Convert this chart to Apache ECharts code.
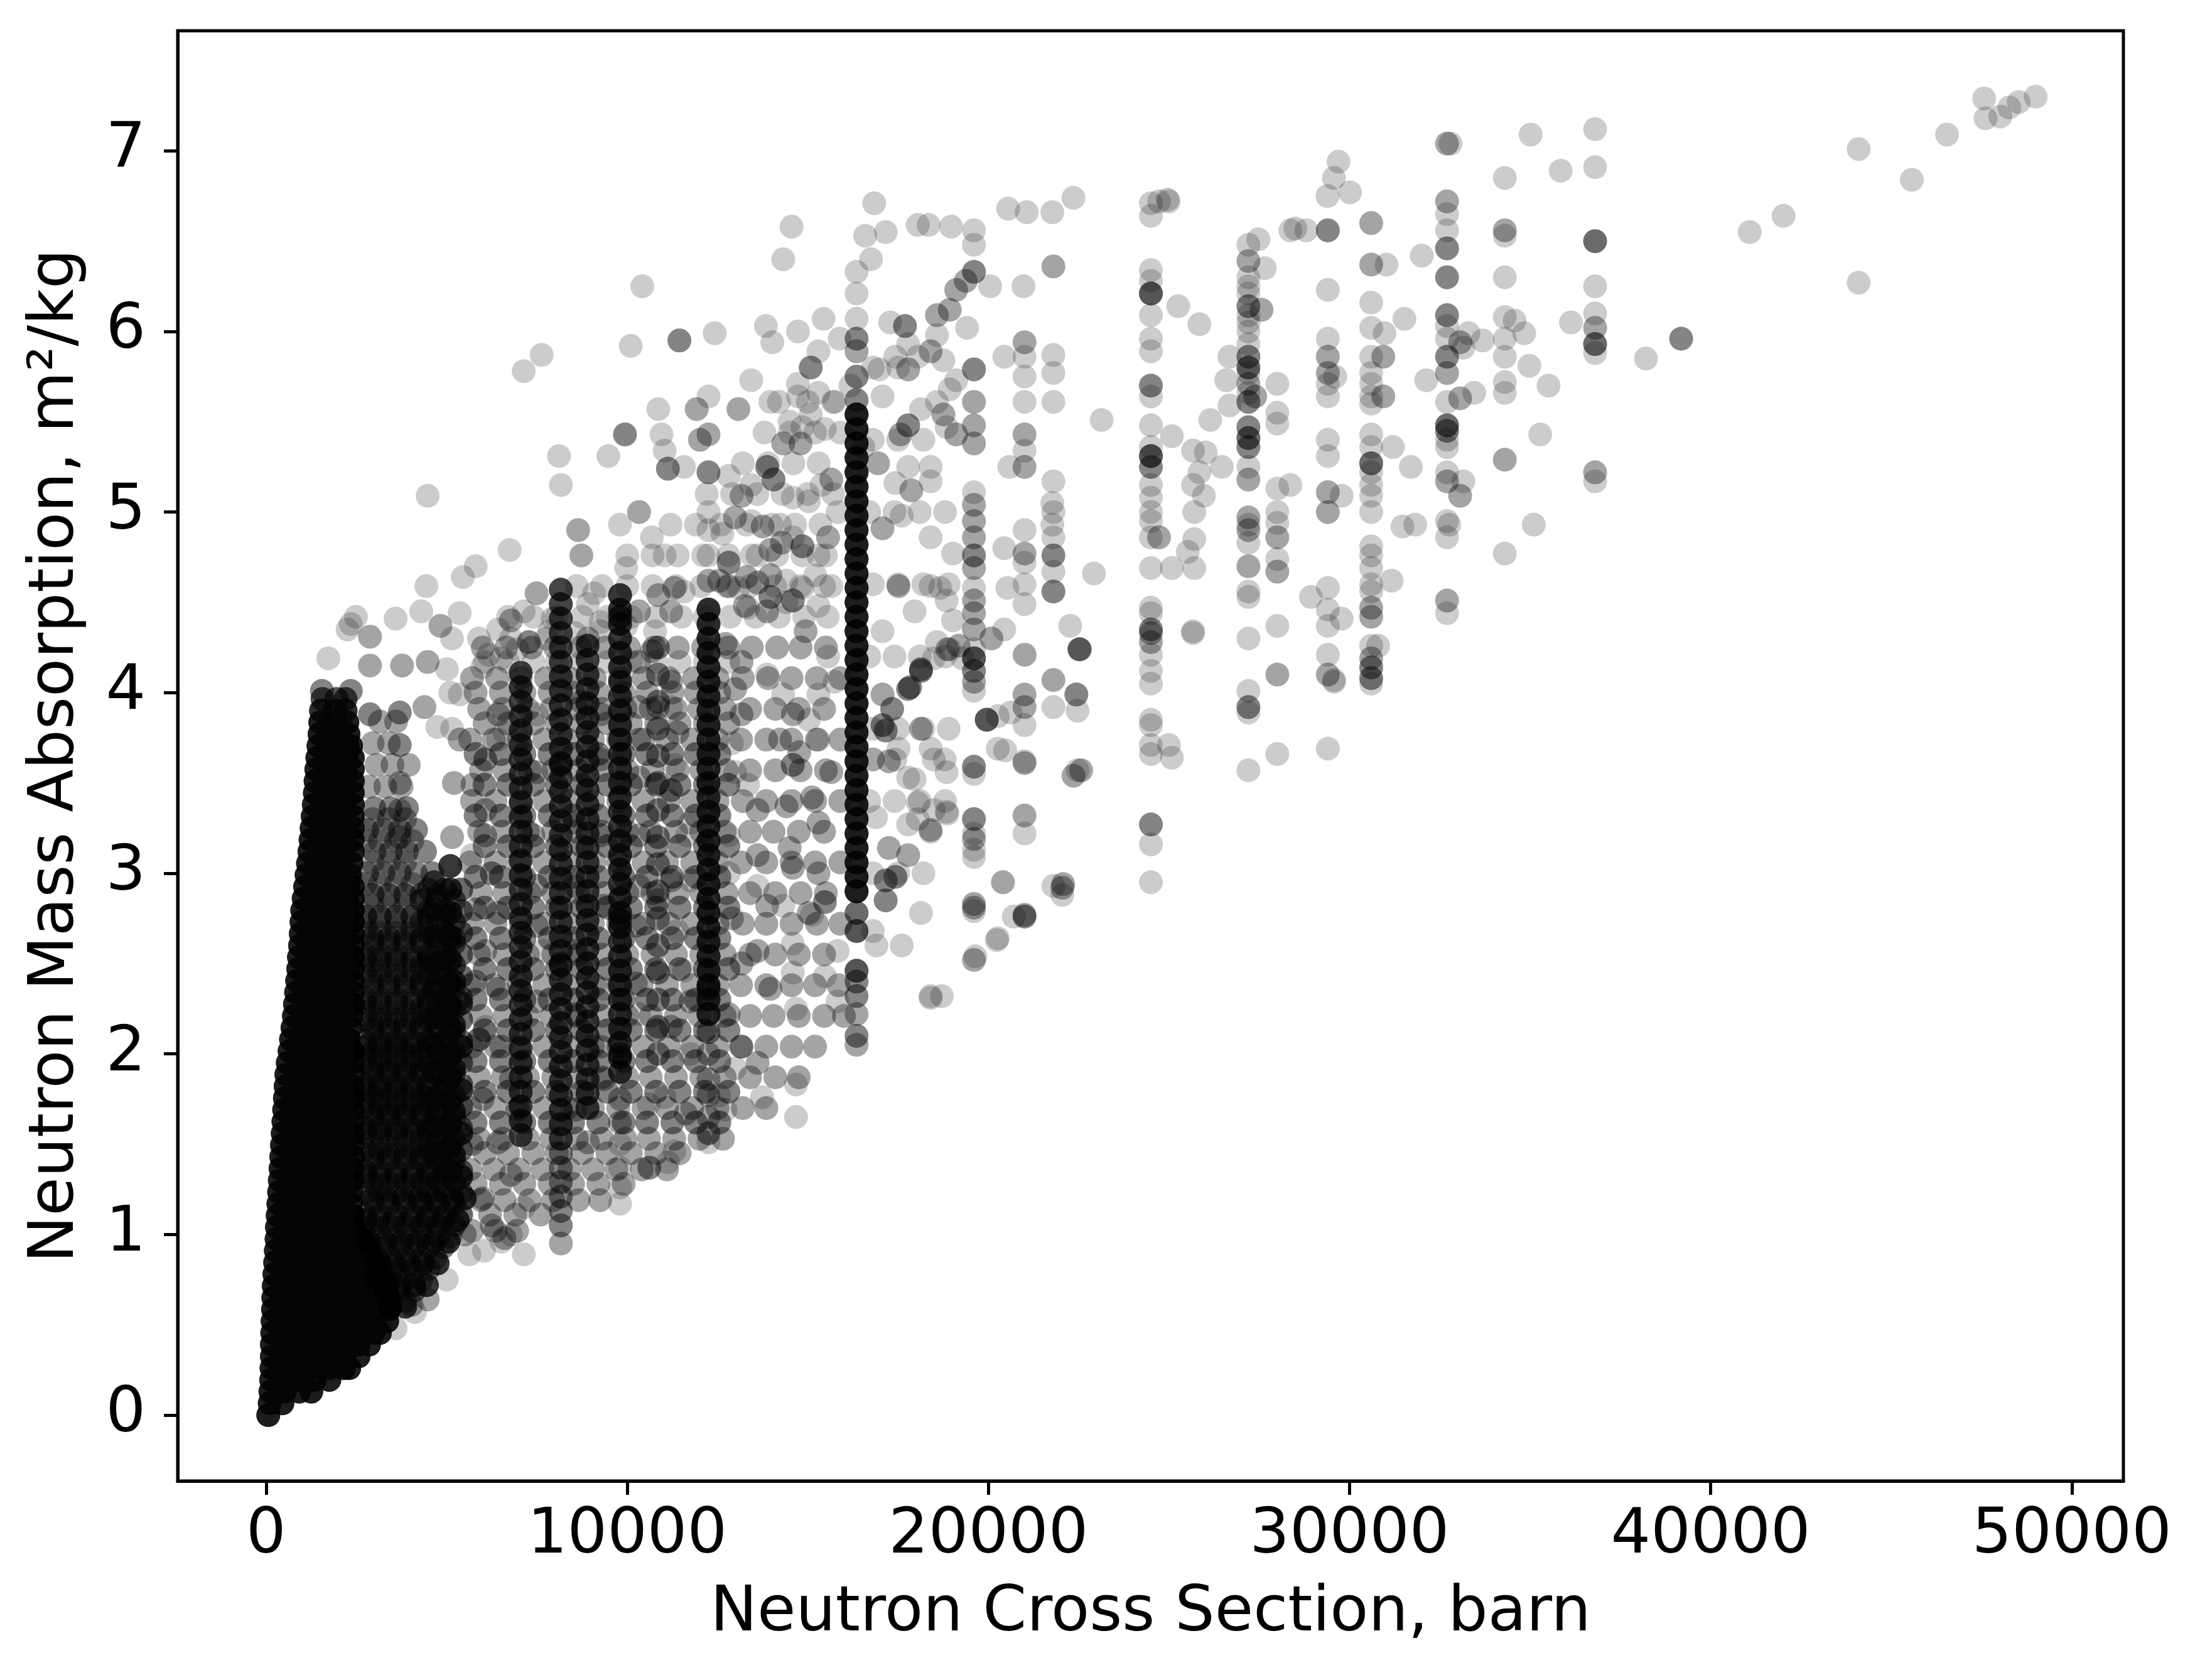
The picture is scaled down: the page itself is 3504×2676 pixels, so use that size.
<!DOCTYPE html>
<html>
<head>
<meta charset="utf-8">
<script src="https://cdn.jsdelivr.net/npm/echarts@6/dist/echarts.min.js"></script>
<style>
  html, body { margin: 0; padding: 0; background: #fff; }
  #chart { width: 3504px; height: 2676px; }
</style>
</head>
<body>
<div id="chart"></div>
<script>
const xTicks = [0, 10000, 20000, 30000, 40000, 50000];
const yTicks = [0, 1, 2, 3, 4, 5, 6, 7];
const xRange = [-2449, 51429];
const yRange = [-0.365, 7.665];

// n = how many markers sit on top of each other at a spot (read from how dark it is)

// saturated mass near the origin: [y, n, [cross sections]]
const coreRows = [
  [0.0, 10, [60]],
  [0.065, 10, [100, 450]],
  [0.13, 10, [120, 520, 920, 1250]],
  [0.195, 10, [140, 540, 940, 1340, 1750]],
  [0.26, 10, [150, 550, 950, 1350, 1750, 2150, 2300]],
  [0.325, 10, [160, 560, 960, 1360, 1760, 2160, 2560]],
  [0.39, 10, [160, 560, 960, 1360, 1760, 2160, 2560, 2850]],
  [0.455, 10, [170, 570, 970, 1370, 1770, 2170, 2570, 2970, 3150]],
  [0.52, 10, [180, 580, 980, 1380, 1780, 2180, 2580, 2980, 3350]],
  [0.585, 10, [190, 590, 990, 1390, 1790, 2190, 2590, 2990, 3400]],
  [0.65, 10, [200, 600, 1000, 1400, 1800, 2200, 2600, 3000, 3400]],
  [0.715, 10, [210, 610, 1010, 1410, 1810, 2210, 2610, 3000, 3350]],
  [0.78, 10, [230, 630, 1030, 1430, 1830, 2230, 2630, 3000, 3200]],
  [0.845, 10, [250, 650, 1050, 1450, 1850, 2250, 2650, 3000]],
  [0.91, 10, [270, 670, 1070, 1470, 1870, 2270, 2670, 2850]],
  [0.975, 10, [290, 690, 1090, 1490, 1890, 2290, 2650]],
  [1.04, 10, [300, 700, 1100, 1500, 1900, 2300, 2450]],
  [1.105, 10, [320, 720, 1120, 1520, 1920, 2320, 2400]],
  [1.17, 10, [340, 740, 1140, 1540, 1940, 2340]],
  [1.235, 10, [360, 760, 1160, 1560, 1960, 2360]],
  [1.3, 10, [380, 780, 1180, 1580, 1980, 2380]],
  [1.365, 10, [400, 800, 1200, 1600, 2000, 2400]],
  [1.43, 10, [420, 820, 1220, 1620, 2020, 2400]],
  [1.495, 10, [440, 840, 1240, 1640, 2040, 2400]],
  [1.56, 10, [460, 860, 1260, 1660, 2060, 2400]],
  [1.625, 10, [480, 880, 1280, 1680, 2080, 2400]],
  [1.69, 10, [500, 900, 1300, 1700, 2100, 2400]],
  [1.755, 10, [520, 920, 1320, 1720, 2120, 2400]],
  [1.82, 10, [540, 940, 1340, 1740, 2140, 2400]],
  [1.885, 10, [560, 960, 1360, 1760, 2160, 2400]],
  [1.95, 10, [600, 1000, 1400, 1800, 2200, 2400]],
  [2.015, 10, [650, 1050, 1450, 1850, 2250, 2400]],
  [2.08, 10, [690, 1090, 1490, 1890, 2290]],
  [2.145, 10, [730, 1130, 1530, 1930, 2330]],
  [2.21, 10, [770, 1170, 1570, 1970, 2370]],
  [2.275, 10, [800, 1200, 1600, 2000, 2400]],
  [2.34, 10, [830, 1230, 1630, 2030, 2400]],
  [2.405, 10, [860, 1260, 1660, 2060, 2400]],
  [2.47, 10, [890, 1290, 1690, 2090, 2400]],
  [2.535, 10, [910, 1310, 1710, 2110, 2400]],
  [2.6, 10, [940, 1340, 1740, 2140, 2400]],
  [2.665, 10, [960, 1360, 1760, 2160, 2400]],
  [2.73, 10, [980, 1380, 1780, 2180, 2400]],
  [2.795, 10, [1000, 1400, 1800, 2200, 2400]],
  [2.86, 10, [1040, 1440, 1840, 2240, 2400]],
  [2.925, 10, [1080, 1480, 1880, 2280, 2400]],
  [2.99, 10, [1120, 1520, 1920, 2320]],
  [3.055, 10, [1160, 1560, 1960, 2360]],
  [3.12, 10, [1200, 1600, 2000, 2400]],
  [3.185, 10, [1230, 1630, 2030, 2400]],
  [3.25, 10, [1260, 1660, 2060, 2400]],
  [3.315, 10, [1290, 1690, 2090, 2400]],
  [3.38, 10, [1320, 1720, 2120, 2400]],
  [3.445, 10, [1350, 1750, 2150, 2400]],
  [3.51, 10, [1370, 1770, 2170, 2400]],
  [3.575, 10, [1390, 1790, 2190, 2400]],
  [3.64, 10, [1420, 1820, 2220, 2400]],
  [3.705, 10, [1450, 1850, 2250, 2350]],
  [3.77, 10, [1480, 1880, 2280]],
  [3.835, 10, [1500, 1900, 2250]],
  [3.9, 8, [1520, 1900, 2200]],
  [3.965, 5, [1560, 1950, 2200]]
];

// dark shoulder between 2500 and 5500 barn: [y, n, [cross sections]]
const shoulderA = [2750, 3150, 3600, 4050];
const shoulderB = [2950, 3400, 3850];
const shoulderRightA = [4500, 4950, 5400];
const shoulderRightB = [4300, 4750, 5200];
const shoulderRows = [
  [0.6, 7, [3450, 3850]],
  [0.72, 7, [3300, 3700, 4100, 4450]],
  [0.84, 7, [3150, 3550, 3950, 4350, 4750]],
  [0.96, 7, [2850, 3300, 3750, 4200, 4650, 5050]],
  [1.08, 7, [2750, 3100, 3550, 4000, 4450, 4900, 5300]],
  [1.2, 7, [2950, 3350, 3800, 4250, 4700, 5150, 5500]],
  [1.32, 7, [2750, 3150, 3600, 4050, 4500, 4950, 5400]],
  [1.44, 7, [2950, 3400, 3850, 4300, 4750, 5200]],
  [1.56, 6, shoulderA], [1.56, 7, shoulderRightA],
  [1.68, 6, shoulderB], [1.68, 7, shoulderRightB],
  [1.8, 6, shoulderA], [1.8, 7, shoulderRightA],
  [1.92, 6, shoulderB], [1.92, 7, shoulderRightB],
  [2.04, 6, shoulderA], [2.04, 7, shoulderRightA],
  [2.16, 5, shoulderB], [2.16, 6, shoulderRightB],
  [2.28, 5, shoulderA], [2.28, 6, shoulderRightA],
  [2.4, 5, shoulderB], [2.4, 6, shoulderRightB],
  [2.52, 5, shoulderA], [2.52, 6, [4500, 4950]],
  [2.64, 5, shoulderB], [2.64, 5, shoulderRightB],
  [2.76, 5, shoulderA], [2.76, 5, [4500, 4950]],
  [2.88, 4, [2950, 3400, 3850, 4300, 4750]],
  [3.0, 3, [2800, 3250, 3700, 4150, 4600]],
  [3.12, 3, [3000, 3450, 3900, 4400]],
  [3.24, 3, [2800, 3250, 3700, 4150]],
  [3.36, 3, [3000, 3450, 3900]],
  [3.48, 2, [2850, 3300, 3750]],
  [3.6, 2, [3050, 3500, 3950]],
  [3.72, 2, [2950, 3400]],
  [3.84, 2, [3150, 3600]],
  [1.62, 2, shoulderB], [1.74, 2, shoulderA], [1.86, 2, shoulderB], [1.98, 2, shoulderA],
  [2.1, 2, shoulderB], [2.22, 2, shoulderA], [2.34, 2, shoulderB], [2.46, 2, shoulderA],
  [2.58, 2, shoulderB], [2.7, 2, shoulderA], [2.82, 2, shoulderB], [2.94, 2, shoulderA],
  [3.06, 2, shoulderB], [3.18, 2, shoulderA], [3.3, 2, shoulderB]
];

// the lower shoulder is nearly solid: a finer layer of the same compounds
const shoulderDenseRows = [
  [0.63, 3, [3450, 3850]], [0.69, 3, [3300, 3700, 4100]], [0.75, 3, [3450, 3850, 4300]],
  [0.81, 3, [3300, 3700, 4100, 4500]], [0.87, 3, [3050, 3450, 3850, 4300, 4700]],
  [0.93, 3, [2900, 3300, 3700, 4100, 4500, 4900]], [0.99, 3, [2750, 3150, 3550, 3950, 4350, 4750, 5100]],
  [1.05, 3, shoulderB], [1.05, 4, shoulderRightB], [1.11, 3, shoulderA], [1.11, 4, shoulderRightA],
  [1.17, 3, shoulderB], [1.17, 4, shoulderRightB], [1.23, 3, shoulderA], [1.23, 4, shoulderRightA],
  [1.29, 3, shoulderB], [1.29, 4, shoulderRightB], [1.35, 3, shoulderA], [1.35, 4, shoulderRightA],
  [1.41, 3, shoulderB], [1.41, 4, shoulderRightB], [1.47, 3, shoulderA], [1.47, 4, shoulderRightA],
  [1.53, 3, shoulderB], [1.53, 4, shoulderRightB], [1.59, 3, shoulderA], [1.59, 4, shoulderRightA],
  [1.65, 3, shoulderB], [1.65, 4, shoulderRightB], [1.71, 3, shoulderA], [1.71, 4, shoulderRightA],
  [1.77, 3, shoulderB], [1.77, 4, shoulderRightB], [1.83, 3, shoulderA], [1.83, 4, shoulderRightA],
  [1.89, 3, shoulderB], [1.89, 4, shoulderRightB], [1.95, 3, shoulderA], [1.95, 4, shoulderRightA],
  [2.01, 3, shoulderB], [2.01, 4, shoulderRightB], [2.07, 3, shoulderA], [2.07, 4, shoulderRightA],
  [2.13, 3, shoulderB], [2.13, 4, shoulderRightB], [2.19, 3, shoulderA], [2.19, 4, shoulderRightA],
  [2.25, 2, shoulderB], [2.25, 4, shoulderRightB], [2.31, 2, shoulderA], [2.31, 4, shoulderRightA],
  [2.37, 2, shoulderB], [2.37, 4, shoulderRightB], [2.43, 2, shoulderA], [2.43, 4, shoulderRightA],
  [2.49, 2, shoulderB], [2.49, 4, shoulderRightB], [2.55, 2, shoulderA], [2.55, 4, shoulderRightA],
  [2.61, 2, shoulderB], [2.61, 4, shoulderRightB], [2.67, 2, shoulderA], [2.67, 4, shoulderRightA],
  [2.73, 4, shoulderRightB], [2.79, 4, shoulderRightA], [2.85, 4, shoulderRightB], [2.91, 4, shoulderRightA]
];

// the crowded band of mixed compounds from 5500 to 19000 barn: [y, n, [cross sections]]
const bandRows = [
  [1.02, 2, [5700, 6350, 6950]],
  [1.19, 2, [5950, 6600, 7300, 7950, 8650, 9250]],
  [1.36, 2, [5650, 6300, 7000, 7650, 8400, 9050, 9700, 10400, 11100]],
  [1.53, 2, [5900, 6550, 7250, 7900, 8600, 9300, 9950, 10600, 11300, 12000, 12650]],
  [1.7, 2, [5650, 6350, 7000, 7700, 8350, 9050, 9750, 10450, 11100, 11800, 12500, 13200, 13850]],
  [1.87, 2, [5900, 6550, 7250, 7950, 8600, 9300, 10000, 10650, 11350, 12050, 12700, 13400, 14100, 14750]],
  [2.04, 2, [5700, 6350, 7000, 7700, 8400, 9050, 9750, 10450, 11150, 11800, 12500, 13150, 13850, 14550, 15200]],
  [2.21, 2, [5950, 6600, 7250, 7900, 8600, 9300, 10000, 10650, 11350, 12000, 12700, 13400, 14050, 14750, 15450, 16000]],
  [2.38, 2, [5650, 6300, 7000, 7700, 8350, 9100, 9750, 10400, 11100, 11800, 12500, 13150, 13850, 14550, 15200, 15850]],
  [2.55, 2, [5900, 6600, 7250, 7950, 8650, 9300, 10000, 10700, 11350, 12050, 12700, 13400, 14100, 14750, 15450]],
  [2.72, 2, [5700, 6350, 7050, 7700, 8400, 9050, 9750, 10450, 11150, 11800, 12500, 13200, 13850, 14550, 15250, 15900]],
  [2.89, 2, [5950, 6600, 7300, 7950, 8650, 9350, 10000, 10700, 11400, 12050, 12750, 13400, 14100, 14800, 15500]],
  [3.06, 2, [5650, 6350, 7000, 7700, 8400, 9100, 9750, 10450, 11100, 11800, 12500, 13150, 13850, 14550, 15200, 15900]],
  [3.23, 2, [5900, 6550, 7250, 7950, 8600, 9300, 10000, 10650, 11350, 12050, 12700, 13400, 14050, 14750, 15450]],
  [3.4, 2, [5700, 6350, 7050, 7700, 8400, 9050, 9750, 10450, 11150, 11800, 12500, 13200, 13850, 14550, 15200, 15900]],
  [3.57, 2, [5950, 6600, 7300, 7950, 8650, 9300, 10000, 10700, 11400, 12050, 12750, 13400, 14100, 14800, 15500]],
  [3.74, 2, [5650, 6300, 7000, 7700, 8350, 9050, 9750, 10450, 11100, 11800, 12500, 13150, 13850, 14550, 15250, 15900]],
  [3.91, 2, [5900, 6550, 7250, 7900, 8600, 9300, 9950, 10650, 11350, 12000, 12700, 13400, 14100, 14750, 15450]],
  [4.08, 2, [5700, 6400, 7050, 7750, 8400, 9100, 9800, 10450, 11150, 11850, 12500, 13200, 13900, 14550, 15250, 15900]],
  [4.25, 2, [6000, 6650, 7350, 8000, 8700, 9400, 10050, 10750, 11400, 12100, 12800, 13450, 14150, 14800, 15500]],
  [4.42, 1, [6700, 7400, 8050, 8750, 9450, 10100, 10800, 11500, 12150, 12850, 13550, 14200, 14900, 15550]],
  [4.59, 1, [8600, 9300, 10000, 10700, 11350, 12050, 12750, 13400, 14100, 14800, 15450]],
  [4.76, 1, [10000, 10700, 11400, 12100, 12800, 13450, 14150, 14850, 15500]],
  [4.93, 1, [11200, 11900, 12600, 13300, 14000, 14650, 15350]],
  [5.1, 1, [12200, 12900, 13600, 14300, 15000, 15700]],
  [5.27, 1, [13200, 13900, 14600, 15300]],
  [5.44, 1, [13800, 14500, 15200, 15900]],
  [5.61, 1, [14200, 15000, 15700]],
  [2.6, 1, [16900, 17600]],
  [3.0, 1, [16800, 17500, 18200]],
  [3.4, 1, [16700, 17400, 18100, 18800]],
  [3.8, 1, [16800, 17500, 18200, 18900]],
  [4.2, 1, [16700, 17400, 18100, 18800]],
  [4.6, 1, [16800, 17500, 18200, 18900]],
  [5.0, 1, [16700, 17400, 18100, 18800]],
  [5.4, 1, [16800, 17500, 18200]],
  [5.8, 1, [16800, 17500]]
];

// second, offset layer of the same band where it is darkest (5500 to 13000 barn)
const bandInnerA = [5800, 6500, 7150, 7850, 8500, 9200, 9900, 10550, 11250, 11900, 12550];
const bandInnerB = [6050, 6700, 7400, 8050, 8750, 9450, 10100, 10800, 11450, 12150, 12800];
const bandInnerRows = [
  [1.11, 2, [6200, 6900, 7600]],
  [1.28, 2, [5800, 6500, 7150, 7850, 8500, 9200, 9900]],
  [1.45, 2, [6050, 6700, 7400, 8050, 8750, 9450, 10100, 10800, 11450]],
  [1.62, 3, bandInnerA], [1.79, 3, bandInnerB], [1.96, 3, bandInnerA], [2.13, 3, bandInnerB],
  [2.3, 3, bandInnerA], [2.47, 3, bandInnerB], [2.64, 3, bandInnerA], [2.81, 3, bandInnerB],
  [2.98, 3, bandInnerA], [3.15, 3, bandInnerB], [3.32, 3, bandInnerA], [3.49, 3, bandInnerB],
  [3.66, 3, bandInnerA], [3.83, 2, bandInnerB], [4.0, 2, bandInnerA], [4.17, 1, bandInnerB]
];

// dense vertical runs at one cross section: [x, n, [mass absorptions]]
const stripeRuns = [
  [5100, 7, [1.35, 1.48, 1.61, 1.74, 1.87, 2.0, 2.13, 2.26, 2.39, 2.52, 2.65, 2.78, 2.91, 3.04]],
  [4650, 5, [1.45, 1.6, 1.75, 1.9, 2.05, 2.2, 2.35, 2.5, 2.65, 2.8, 2.95]],
  [7050, 6, [1.55, 1.63, 1.71, 1.79, 1.87, 1.95, 2.03, 2.11, 2.19, 2.27, 2.35, 2.43, 2.51, 2.59, 2.67, 2.75, 2.83, 2.91, 2.99, 3.07, 3.15, 3.23, 3.31, 3.39, 3.47, 3.55, 3.63, 3.71, 3.79, 3.87, 3.95, 4.03, 4.11]],
  [8160, 3, [1.05, 1.13, 1.21, 1.29, 1.37, 1.45]],
  [8160, 6, [1.53, 1.61, 1.69, 1.77, 1.85, 1.93, 2.01, 2.09, 2.17, 2.25, 2.33, 2.41, 2.49, 2.57, 2.65, 2.73, 2.81, 2.89, 2.97, 3.05, 3.13, 3.21, 3.29, 3.37, 3.45, 3.53, 3.61, 3.69, 3.77, 3.85, 3.93, 4.01, 4.09, 4.17, 4.25, 4.33, 4.41, 4.49, 4.57]],
  [8900, 6, [1.7, 1.78, 1.86, 1.94, 2.02, 2.1, 2.18, 2.26, 2.34, 2.42, 2.5, 2.58, 2.66, 2.74, 2.82, 2.9, 2.98, 3.06, 3.14, 3.22, 3.3, 3.38, 3.46, 3.54, 3.62, 3.7, 3.78, 3.86, 3.94, 4.02, 4.1, 4.18, 4.26]],
  [9800, 7, [1.9, 1.98, 2.06, 2.14, 2.22, 2.3, 2.38, 2.46, 2.54, 2.62, 2.7, 2.78, 2.86, 2.94, 3.02, 3.1, 3.18, 3.26, 3.34, 3.42, 3.5, 3.58, 3.66, 3.74, 3.82, 3.9, 3.98, 4.06, 4.14, 4.22, 4.3, 4.38, 4.46, 4.54]],
  [10850, 3, [2.0, 2.15, 2.3, 2.45, 2.6, 2.75, 2.9, 3.05, 3.2, 3.35, 3.5, 3.65, 3.8, 3.95, 4.1, 4.25]],
  [12250, 8, [2.22, 2.3, 2.38, 2.46, 2.54, 2.62, 2.7, 2.78, 2.86, 2.94, 3.02, 3.1, 3.18, 3.26, 3.34, 3.42, 3.5, 3.58, 3.66, 3.74, 3.82, 3.9, 3.98, 4.06, 4.14, 4.22, 4.3, 4.38, 4.46]],
  [16350, 10, [2.9, 2.98, 3.06, 3.14, 3.22, 3.3, 3.38, 3.46, 3.54, 3.62, 3.7, 3.78, 3.86, 3.94, 4.02, 4.1, 4.18, 4.26, 4.34, 4.42, 4.5, 4.58, 4.66, 4.74, 4.82, 4.9, 4.98, 5.06, 5.14, 5.22, 5.3, 5.38, 5.46, 5.54]]
];

// sparser columns and their loose ends: [x, y, n]
const columnPoints = [
  [3700,3.2,2],[3700,3.35,2],[3700,3.5,2],[3700,3.71,3],[3700,3.89,3],
  [5150,3.2,2],[5200,3.5,2],[5150,3.8,1],[5100,4.0,1],
  [8160,3.6,4],[8160,2.5,3],
  [9800,4.42,6],[9800,2.74,6],[9800,2.0,4],[9800,1.75,2],[9800,1.62,2],[9800,1.5,1],[9800,1.37,1],[9800,1.26,1],[9800,1.17,1],
  [10850,3.92,2],[10850,2.85,2],
  [12250,2.36,4],[12250,2.12,3],[12250,2.0,2],[12250,1.86,2],[12250,1.77,2],[12250,1.65,2],[12250,1.56,3],[12250,1.51,1],
  [12250,4.62,2],[12250,4.76,1],[12250,4.9,1],[12250,5.0,1],[12250,5.22,3],[12250,5.43,2],[12250,5.64,1],
  [16350,2.78,4],[16350,2.68,5],[16350,2.46,5],[16350,2.4,3],[16350,2.32,3],[16350,2.22,2],[16350,2.1,3],[16350,2.05,2],
  [16350,5.62,3],[16350,5.75,3],[16350,5.89,2],[16350,5.96,3],[16350,6.07,1],[16350,6.21,1],[16350,6.33,1],
  [19600,6.56,1],[19600,6.48,1],[19600,6.33,3],[19600,5.79,3],[19600,5.61,2],[19600,5.48,2],[19600,5.38,2],[19600,5.11,1],[19600,5.04,2],[19600,4.95,2],[19600,4.86,2],[19600,4.76,3],[19600,4.69,2],[19600,4.58,1],[19600,4.51,2],[19600,4.44,2],[19600,4.35,2],[19600,4.24,1],[19600,4.19,5],[19600,4.12,3],[19600,4.06,2],[19600,4.01,1],[19600,3.59,3],[19600,3.55,1],[19600,3.3,3],[19600,3.22,1],[19600,3.19,2],[19600,3.13,1],[19600,3.09,1],[19600,2.83,2],[19600,2.81,2],[19600,2.79,1],[19600,2.52,2],
  [21000,5.94,2],[21000,5.86,1],[21000,5.75,1],[21000,5.61,1],[21000,5.43,2],[21000,5.34,1],[21000,5.25,2],[21000,4.9,1],[21000,4.77,2],[21000,4.72,1],[21000,4.6,1],[21000,4.49,1],[21000,4.21,1],[21000,3.99,2],[21000,3.92,2],[21000,3.82,1],[21000,3.62,1],[21000,3.61,2],[21000,3.32,2],[21000,3.22,1],[21000,2.76,3],[21000,2.77,2],
  [21800,6.36,2],[21800,5.87,1],[21800,5.77,1],[21800,5.61,1],[21800,5.17,1],[21800,5.0,1],[21800,4.86,1],[21800,4.76,3],[21800,4.67,1],[21800,4.56,3],[21800,4.07,2],[21800,3.92,1],[21800,2.93,1],
  [24500,6.71,1],[24500,6.64,1],[24500,6.34,1],[24500,6.28,1],[24500,6.21,5],[24500,6.09,1],[24500,5.96,1],[24500,5.89,1],[24500,5.7,3],[24500,5.64,1],[24500,5.48,1],[24500,5.36,1],[24500,5.31,5],[24500,5.25,3],[24500,5.15,1],[24500,5.08,1],[24500,5.0,1],[24500,4.95,1],[24500,4.86,1],[24500,4.69,1],[24500,4.47,1],[24500,4.44,1],[24500,4.35,3],[24500,4.33,2],[24500,4.28,2],[24500,4.21,1],[24500,4.12,1],[24500,4.05,1],[24500,3.85,1],[24500,3.82,1],[24500,3.71,1],[24500,3.66,1],[24500,3.27,3],[24500,3.16,1],[24500,2.95,1],
  [27200,6.48,1],[27200,6.39,2],[27200,6.3,1],[27200,6.25,1],[27200,6.21,1],[27200,6.14,3],[27200,6.09,1],[27200,6.05,1],[27200,6.0,1],[27200,5.93,1],[27200,5.86,3],[27200,5.8,4],[27200,5.77,1],[27200,5.71,2],[27200,5.66,1],[27200,5.61,3],[27200,5.47,3],[27200,5.41,4],[27200,5.36,3],[27200,5.25,1],[27200,5.18,2],[27200,4.97,2],[27200,4.93,1],[27200,4.9,2],[27200,4.83,1],[27200,4.7,2],[27200,4.56,1],[27200,4.53,1],[27200,4.3,1],[27200,4.01,1],[27200,3.92,3],[27200,3.89,1],[27200,3.57,1],
  [28000,5.71,1],[28000,5.55,1],[28000,5.49,1],[28000,5.13,1],[28000,5.0,1],[28000,4.94,1],[28000,4.86,2],[28000,4.74,1],[28000,4.67,2],[28000,4.37,1],[28000,4.1,2],[28000,3.66,1],
  [29400,6.56,3],[29400,6.23,1],[29400,5.96,1],[29400,5.86,2],[29400,5.77,2],[29400,5.71,1],[29400,5.64,1],[29400,5.4,1],[29400,5.31,1],[29400,5.11,2],[29400,5.0,2],[29400,4.58,1],[29400,4.46,1],[29400,4.37,1],[29400,4.21,1],[29400,4.1,2],[29400,3.69,1],
  [30600,6.6,2],[30600,6.37,2],[30600,6.16,1],[30600,6.02,1],[30600,5.86,1],[30600,5.77,1],[30600,5.71,1],[30600,5.64,1],[30600,5.6,1],[30600,5.43,1],[30600,5.36,1],[30600,5.27,4],[30600,5.22,1],[30600,5.15,1],[30600,5.09,1],[30600,5.0,1],[30600,4.81,1],[30600,4.76,1],[30600,4.69,1],[30600,4.6,1],[30600,4.56,1],[30600,4.47,2],[30600,4.42,2],[30600,4.26,1],[30600,4.19,2],[30600,4.14,3],[30600,4.08,3],[30600,4.05,1],
  [32700,7.04,2],[32700,6.72,2],[32700,6.65,1],[32700,6.56,1],[32700,6.46,3],[32700,6.3,3],[32700,6.09,3],[32700,6.03,1],[32700,5.96,1],[32700,5.86,3],[32700,5.77,2],[32700,5.61,1],[32700,5.48,4],[32700,5.45,3],[32700,5.4,1],[32700,5.36,1],[32700,5.22,1],[32700,5.17,2],[32700,4.95,1],[32700,4.86,1],[32700,4.51,2],[32700,4.44,1],
  [34300,6.85,1],[34300,6.56,2],[34300,6.53,1],[34300,6.3,1],[34300,6.08,1],[34300,5.96,1],[34300,5.86,1],[34300,5.72,1],[34300,5.66,1],[34300,5.29,2],[34300,4.77,1],
  [36800,7.12,1],[36800,6.91,1],[36800,6.5,4],[36800,6.25,1],[36800,6.1,1],[36800,6.02,2],[36800,5.93,4],[36800,5.88,1],[36800,5.22,2],[36800,5.17,1]
];

// scattered compounds: [x, y, n]
const loosePoints = [
  [1723,4.19,1],[2255,4.35,1],[2486,4.42,1],[2344,4.38,1],[2876,4.31,2],[3586,4.41,1],[4295,4.45,1],[2876,4.15,2],[3763,4.15,2],
  [1546,4.01,3],[2344,4.01,3],[2876,3.88,3],[4384,3.92,2],[4473,4.17,2],[5005,4.13,1],[5147,4.3,1],[5360,3.74,2],[4738,3.81,1],[5360,3.99,1],
  [4473,5.09,1],[4437,4.59,1],[5448,4.64,1],[5803,4.7,1],[6743,4.79,1],[7134,5.78,1],[7630,5.87,1],[8162,5.15,1],[8110,5.31,1],[9475,5.31,1],
  [9937,5.43,3],[10416,6.25,1],[10096,5.92,1],[11444,5.95,3],[12420,5.99,1],[10859,5.57,1],[10948,5.43,1],[11125,5.24,3],[11036,5.34,1],[11568,5.25,1],
  [12012,5.4,2],[11923,5.57,2],[13431,5.73,1],[13963,5.61,1],[13839,6.03,1],[14017,5.94,1],[14727,6.0,1],[15436,6.07,1],[14549,6.58,1],[14318,6.4,1],
  [15081,5.8,3],[15294,5.89,1],[15880,5.96,1],[16180,5.7,1],[15738,5.61,1],[15294,5.66,1],[14727,5.64,1],[14727,5.71,1],[15081,5.54,1],[14496,5.5,1],
  [14850,5.47,1],[14797,5.38,2],[15471,5.46,1],[14318,5.38,2],[13874,5.25,3],[14051,5.18,3],[13431,5.15,1],[13165,5.09,2],[12987,4.97,2],[13431,4.95,1],
  [13750,4.92,2],[14229,4.93,1],[14584,5.08,1],[15028,5.06,1],[15383,5.15,1],[15649,5.18,2],[15826,5.0,1],[15560,4.86,2],[15294,4.76,1],[14850,4.81,3],
  [14584,4.86,1],[14283,4.83,2],[13963,4.79,2],[13608,4.76,1],[13307,4.64,2],[13963,4.65,2],[14407,4.62,1],[14850,4.58,1],[15205,4.65,1],[14584,4.51,3],
  [13963,4.53,3],[13342,4.47,1],[13077,5.57,2],[12810,5.2,1],[12633,4.88,1],[12810,4.72,3],[12544,4.62,2],[13077,4.58,1],
  [8641,4.9,2],[8730,4.76,2],[9795,4.93,1],[10327,5.0,2],[10682,4.86,1],[9972,4.69,1],[11036,4.76,1],[11303,4.58,2],[9085,4.55,1],[7488,4.55,2],
  [6779,4.4,2],[6424,4.35,1],[5892,4.3,1],[5360,4.44,1],[4827,4.37,2],[8908,4.3,2],[9262,4.39,1],[9972,4.37,1],[10682,4.23,2],
  [5980,4.14,1],[6158,4.21,1],[6513,4.19,1],[7275,4.28,3],[7754,4.3,1],[6779,4.3,1],[7134,4.45,1],[7932,4.41,1],[6956,4.24,1],[7843,4.34,1],
  [8553,4.33,1],[8908,4.49,1],[9262,4.34,1],[10327,4.45,2],[10859,4.54,2],[11214,4.45,2],[10770,4.34,1],[11568,4.56,1],[12810,4.59,2],[13254,4.48,2],
  [13609,4.61,2],[13874,4.45,2],[14407,4.5,1],[14939,4.34,2],[15294,4.48,1],[15649,4.59,1],[17068,4.34,1],[17511,4.59,2],[17955,4.45,1],[18400,4.59,1],
  [6069,3.63,3],[6424,3.74,1],[6424,3.88,2],[5714,3.49,2],[6069,3.35,2],[6601,3.78,1],[7488,3.88,1],[7488,3.56,2],[8730,3.95,2],[9262,3.88,2],
  [9262,3.63,2],[10327,4.17,2],[10327,3.92,2],[10327,3.74,2],[10327,3.53,2],[11214,4.06,2],[11214,3.92,1],[11391,3.78,2],[11303,3.6,1],[11214,3.46,3],
  [11746,3.28,1],[12722,4.27,2],[13165,4.17,2],[12987,4.02,2],[13165,3.88,2],[12899,3.72,1],[12988,3.56,1],[13343,3.49,1],[13609,3.35,2],[13874,4.1,1],
  [14318,3.99,1],[14584,3.88,2],[14230,3.74,2],[14584,3.6,3],[14762,3.67,2],[15028,3.85,1],[15294,3.99,1],[15560,4.2,1],[15738,4.06,1],[15294,3.74,1],
  [15649,3.56,2],[15117,3.42,2],[15294,3.28,2],[14407,3.37,2],[17068,3.99,2],[17156,3.79,3],[17778,4.02,3],[18132,4.13,3],[17423,3.63,1],[17778,3.53,1],
  [18044,3.39,1],[18488,3.35,1],[18488,3.63,1],[18842,3.56,1],[16801,3.63,2],[16890,3.31,1],
  [6069,3.21,2],[6246,3.0,3],[6424,2.78,2],[6069,2.57,2],[6424,2.36,2],[6069,2.15,1],[5892,2.08,4],[7400,3.21,2],[7488,2.93,2],[7488,2.71,2],
  [7488,2.29,2],[7666,2.57,1],[8553,3.28,2],[8553,2.93,2],[8553,2.57,2],[8553,2.22,2],[9262,3.21,2],[9351,2.82,2],[9351,2.36,1],[9262,2.04,2],
  [10327,3.21,2],[10327,2.93,2],[10238,2.71,2],[10238,2.39,2],[10327,2.22,1],[11214,2.96,2],[11391,2.68,1],[11657,3.21,1],[11746,2.96,1],[11568,2.46,1],
  [11746,2.29,2],[11214,2.15,2],[12810,3.21,1],[12810,3.0,1],[12899,2.75,2],[13165,2.5,2],[12810,2.22,2],[13165,2.04,2],[13609,3.1,2],[13609,2.93,1],
  [13874,2.82,2],[13609,2.57,2],[13963,2.36,2],[14496,3.14,2],[14584,3.03,2],[14318,2.82,1],[14584,2.61,1],[14673,2.25,1],[15471,2.84,3],[15028,2.78,2],
  [15294,3.0,2],[15826,2.57,1],[15471,2.43,1],[15826,2.29,1],[17156,2.96,3],[17156,2.85,3],[17245,3.14,2],[16801,2.68,1],[17778,3.1,2],[18400,3.24,2],
  [18133,2.78,1],[18400,2.32,1],[14673,1.83,1],[14673,1.65,1],[13733,1.76,1],[13609,1.95,2],[12987,1.92,1],[12722,1.69,1],[14584,2.45,1],[15117,2.77,1],
  [6513,2.04,2],[6779,1.86,2],[6956,1.69,2],[6424,1.51,2],[6779,1.33,2],[7134,1.15,1],[6246,1.05,2],[6601,0.98,2],[7134,0.89,1],[8553,1.69,2],
  [8908,1.51,2],[8162,0.95,2],[9351,1.86,2],[10593,1.72,1],[10611,1.37,3],[11125,1.4,1],[11303,1.46,1],[11621,1.67,2],[11036,1.76,1],[11746,2.0,1],
  [12544,1.77,1],[5626,0.89,1],[6034,0.91,1],[6513,0.96,1],[6779,1.0,1],[3050,0.76,6],[3586,0.48,1],[4118,0.57,1],[4029,0.61,2],[4473,0.64,2],
  [4118,0.69,1],[5000,0.75,1],[5500,1.0,2],[6000,1.2,2],[5700,1.5,2],[6000,1.75,2],[5800,2.4,2],[5800,2.8,2],[5700,3.1,1],
  [16837,6.71,1],[16590,6.53,1],[17156,6.55,1],[16749,6.4,1],[18044,6.59,1],[18346,6.59,1],[18966,6.58,1],[19374,6.28,2],[19108,6.23,2],[18930,6.12,2],
  [18576,6.09,2],[19409,6.02,1],[20049,6.25,1],[20545,6.68,1],[21060,6.66,1],[21770,6.66,1],[22355,6.74,1],[20971,6.25,1],[24962,6.73,1],[24725,6.72,1],
  [16979,5.79,1],[17068,5.64,1],[17280,6.05,1],[17690,6.03,3],[17778,5.93,1],[17423,5.86,1],[17778,5.79,2],[18044,5.86,1],[18400,5.89,2],[18754,5.84,1],
  [19109,5.73,1],[18930,5.68,1],[18576,5.61,1],[18133,5.57,1],[17778,5.48,3],[17565,5.43,2],[18842,5.47,1],[19109,5.43,2],[18400,5.25,1],[18400,5.17,1],
  [17778,5.25,1],[16944,5.27,2],[16536,5.36,1],[18576,5.98,1],[18754,5.54,2],[18400,4.86,1],[18665,4.58,1],[18843,4.51,1],[18577,4.28,1],[19020,4.4,1],
  [20439,5.86,1],[20580,5.25,1],[20527,4.58,1],[23135,5.51,1],[22922,4.66,1],[22266,4.37,1],[22532,4.24,3],
  [17423,5.16,1],[17866,5.12,2],[17600,4.98,1],[17068,4.91,2],[19020,4.77,1],[20439,4.8,1],[21770,5.05,1],[21770,4.93,1],
  [18866,4.24,2],[19177,4.26,2],[19953,3.85,3],[20263,3.87,1],[22436,3.99,3],[22514,4.24,2],[22467,3.9,1],[20465,3.68,1],[22358,3.54,2],[22467,3.57,1],
  [18789,3.63,1],[18866,3.33,1],[22048,2.92,2],[22048,2.88,1],[20232,2.63,1],[18711,2.32,1],[17831,4.03,3],[18133,4.12,3],[18488,4.19,1],[18930,4.24,1],
  [19286,4.19,1],[20084,4.3,2],[20439,4.35,1],[19958,3.85,2],[20616,3.89,1],[20260,3.69,1],[22070,2.94,2],[22567,3.57,2],[20403,2.95,2],[20260,2.64,1],
  [19640,2.54,1],[20700,2.76,1],[18400,3.69,1],[18132,3.8,2],[17245,3.62,2],[17334,3.91,3],[17068,3.82,3],[17511,3.69,1],[17955,3.52,1],[17778,3.27,1],
  [17423,2.98,3],[18044,3.3,1],[18400,3.23,1],[18842,3.34,1],[18400,2.31,1],[21008,4.21,1],[25664,4.33,1],[29575,4.06,1],
  [25257,6.14,1],[25843,6.04,1],[25080,5.42,1],[25666,5.34,1],[26020,5.33,1],[26464,5.25,1],[25843,5.22,1],[25967,5.09,1],[25666,5.15,1],[25700,5.0,1],
  [25700,4.85,1],[25523,4.78,1],[25700,4.69,1],[25080,4.69,1],[25666,4.34,1],[25000,3.71,1],[25080,3.64,1],[24725,4.86,2],[24990,6.72,1],
  [27475,6.51,1],[27652,6.35,1],[27563,6.12,2],[26677,5.86,1],[26588,5.73,1],[26677,5.59,1],[27387,5.64,2],[26144,5.51,1],[28362,5.15,1],
  [29568,6.85,1],[29695,6.94,1],[29391,6.75,1],[30012,6.77,1],[28362,6.56,1],[28806,6.56,1],[28500,6.57,1],[29604,5.75,1],[29781,5.09,1],[28930,4.53,1],
  [29781,4.41,1],[29568,4.07,1],[31023,6.37,1],[30970,5.99,1],[30935,5.86,2],[30935,5.64,2],[31200,5.36,1],[31520,6.07,1],[32000,6.42,1],[31466,4.92,1],
  [31820,4.93,1],[31697,5.25,1],[31166,4.62,1],[30792,4.26,1],[32797,7.04,1],[32123,5.73,1],[33063,5.94,2],[33152,5.91,1],[33684,5.95,1],[33294,5.99,1],
  [33063,5.63,2],[33453,5.66,1],[33152,5.17,1],[33063,5.09,2],[32761,4.93,1],[34571,6.06,1],[34837,5.99,1],[34980,5.81,1],[35511,5.7,1],[35280,5.43,1],
  [35103,4.93,1],[35015,7.09,1],[35848,6.89,1],[36132,6.05,1],[38208,5.85,1],[39183,5.96,3],
  [41081,6.55,1],[42017,6.64,1],[44097,7.01,1],[44097,6.27,1],[45570,6.84,1],[46545,7.09,1],[47574,7.29,1],[47610,7.18,1],[48020,7.19,1],[48270,7.24,1],
  [48530,7.27,1],[49000,7.3,1]
];

const fontFamily = 'DejaVu Sans';

function fromRows(rows) {
  return rows.flatMap(([y, n, xs]) => xs.map(x => [x, y, n]));
}
function fromRuns(runs) {
  return runs.flatMap(([x, n, ys]) => ys.map(y => [x, y, n]));
}

// every marker is black at alpha 0.2 (as in the original); a spot with n stacked
// markers is drawn as n markers at the same place
function scatter(points) {
  const data = [];
  points.forEach(([x, y, n]) => {
    for (let i = 0; i < n; i++) data.push([x, y]);
  });
  return {
    type: 'scatter',
    data: data,
    symbol: 'circle',
    symbolSize: 38,
    large: false,
    progressive: 0,
    itemStyle: { color: '#000', opacity: 0.2, borderWidth: 0 },
    emphasis: { disabled: true },
    silent: true
  };
}

const chart = echarts.init(document.getElementById('chart'), null, { renderer: 'canvas' });

const axisLine = { show: true, onZero: false, lineStyle: { color: '#000', width: 5 } };

chart.setOption({
  animation: false,
  backgroundColor: '#fff',
  textStyle: { fontFamily: fontFamily },
  grid: {
    left: 283, right: 122, top: 49, bottom: 317,
    show: true, borderColor: '#000', borderWidth: 5, backgroundColor: 'transparent',
    containLabel: false, outerBoundsMode: 'none'
  },
  xAxis: {
    type: 'value',
    min: xRange[0], max: xRange[1],
    name: 'Neutron Cross Section, barn',
    nameLocation: 'middle',
    nameGap: 162,
    nameTextStyle: { fontSize: 100, color: '#000', fontFamily: fontFamily },
    axisLine: axisLine,
    splitLine: { show: false },
    axisTick: { show: true, length: 22, inside: false, customValues: xTicks, lineStyle: { color: '#000', width: 5 } },
    axisLabel: { customValues: xTicks, fontSize: 100, color: '#000', margin: 38, fontFamily: fontFamily, formatter: v => String(v) }
  },
  yAxis: {
    type: 'value',
    min: yRange[0], max: yRange[1],
    name: 'Neutron Mass Absorption, m²/kg',
    nameLocation: 'middle',
    nameRotate: 90,
    nameGap: 143,
    nameTextStyle: { fontSize: 100, color: '#000', fontFamily: fontFamily },
    axisLine: axisLine,
    splitLine: { show: false },
    axisTick: { show: true, length: 22, inside: false, customValues: yTicks, lineStyle: { color: '#000', width: 5 } },
    axisLabel: { customValues: yTicks, fontSize: 100, color: '#000', margin: 51, fontFamily: fontFamily, formatter: v => String(v) }
  },
  series: [
    scatter(fromRows(coreRows)),
    scatter(fromRows(shoulderRows)),
    scatter(fromRows(shoulderDenseRows)),
    scatter(fromRows(bandRows)),
    scatter(fromRows(bandInnerRows)),
    scatter(fromRuns(stripeRuns)),
    scatter(columnPoints),
    scatter(loosePoints)
  ]
});
</script>
</body>
</html>
